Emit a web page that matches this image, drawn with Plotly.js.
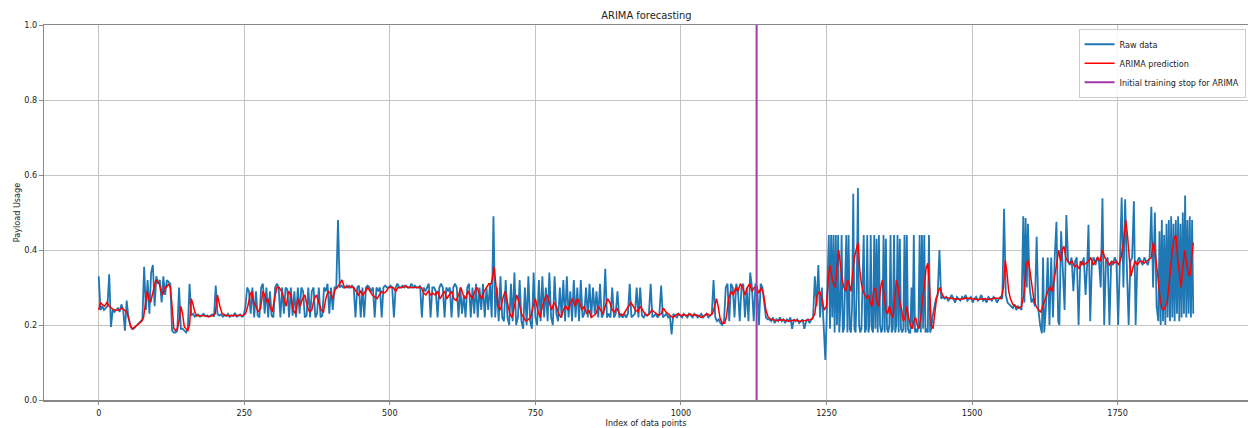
<!DOCTYPE html>
<html>
<head>
<meta charset="utf-8">
<script src="https://cdn.plot.ly/plotly-3.0.1.min.js"></script>
<style>html,body{margin:0;padding:0;background:#fff;}#chart{width:1248px;height:428px;}</style>
</head>
<body>
<div id="chart"></div>
<script>
// ---- Raw data: [index, payload usage] ----
const rawA = [[0,.33],[3,.24],[6,.25],[9,.24],[12,.245],[15,.25],[18,.335],[21,.195],[24,.24],[27,.235],[30,.24],[33,.245],[36,.235],[39,.255],[42,.24],[45,.185],[48,.265],
[51,.22],[54,.20],[57,.19],[60,.19],[63,.195],[66,.20],[69,.205],[72,.21],[75,.215],
[78,.355],[81,.24],[84,.32],[87,.23],[90,.34],[93,.36],[96,.25],[99,.33],[102,.31],[105,.32],[108,.26],[111,.33],[114,.28],[117,.32],[120,.315],[123,.31],
[126,.185],[129,.18],[132,.18],[135,.185],[138,.30],[141,.19],[144,.19],[147,.185],[150,.18],[153,.19],[156,.31],
[159,.225],[162,.23],[165,.222],[168,.225],[171,.228],[174,.222],[177,.225],[180,.23],[183,.224],[186,.226],[189,.222],[192,.225],[195,.228],[198,.222],[201,.305],[204,.23],[207,.225],[210,.228],[213,.222],[216,.226],[219,.224],[222,.23],[225,.222],[228,.226],[231,.224],[234,.232],[237,.222],[240,.225],[243,.228],[246,.222],[249,.225]];

const rawB = [[252,.25],[255,.30],[258,.29],[261,.23],[264,.30],[267,.22],[270,.29],[273,.225],[276,.22],[279,.30],[282,.31],[285,.23],[288,.30],[291,.22],[294,.29],[297,.225],[300,.22],[303,.30],[306,.31],[309,.30],[312,.22],[315,.30],[318,.23],[321,.30],[324,.295],[327,.22],[330,.30],[333,.225],[336,.29],[339,.22],[342,.30],[345,.23],[348,.30],[351,.29],[354,.22],[357,.225],[360,.30],[363,.22],[366,.29],[369,.30],[372,.22],[375,.23],[378,.30],[381,.22],[384,.225],[387,.30],[390,.29],[393,.31],[396,.23],[399,.30],[402,.24],[405,.30],[408,.30],
[411,.48],[414,.30],[417,.305],[420,.30],[423,.30],[426,.305],[429,.30],[432,.30],[435,.305],[438,.30],[441,.22],[444,.30],[447,.305],[450,.22],[453,.30],[456,.22],[459,.30],[462,.305],[465,.30],[468,.29],[471,.30],[474,.22],[477,.30],[480,.29],[483,.30],[486,.22],[489,.30],[492,.305],[495,.30],[498,.30],[501,.305],[504,.30],[507,.22],[510,.30],[513,.31],[516,.30],[519,.30],[522,.305],[525,.30],[528,.305],[531,.30],[534,.30],[537,.31],[540,.30],[543,.305],[546,.30],[549,.30],[552,.305],[555,.22],[558,.30],[561,.29],[564,.30],[567,.31],[570,.22],[573,.30],[576,.30],[579,.29],[582,.22],[585,.30],[588,.31],[591,.30],[594,.22],[597,.30],[600,.29],[603,.30],[606,.22],[609,.30],[612,.31],[615,.30],[618,.22],[621,.30],[624,.23],[627,.28],[630,.22],[633,.30],[636,.31],[639,.22],[642,.30],[645,.23],[648,.31],[651,.22],[654,.30],[657,.24],[660,.31],[663,.22],[666,.30],[669,.24],[672,.31],[675,.22],[678,.49]];

const rawC = [[681,.22],[684,.30],[687,.21],[690,.33],[693,.22],[696,.21],[699,.32],[702,.22],[705,.20],[708,.31],[711,.21],[714,.34],[717,.20],[720,.22],[723,.32],[726,.21],[729,.19],[732,.30],[735,.20],[738,.33],[741,.21],[744,.19],[747,.34],[750,.22],[753,.20],[756,.32],[759,.21],[762,.33],[765,.22],[768,.30],[771,.21],[774,.34],[777,.22],[780,.20],[783,.33],[786,.23],[789,.21],[792,.30],[795,.22],[798,.32],[801,.21],[804,.33],[807,.22],[810,.29],[813,.21],[816,.32],[819,.22],[822,.30],[825,.21],[828,.32],[831,.22],[834,.23],[837,.30],[840,.22],[843,.31],[846,.22],[849,.30],[852,.23],[855,.29],[858,.22],[861,.31],[864,.22],[867,.23],[870,.35],[873,.22],[876,.23],[879,.22],[882,.30],[885,.22],[888,.23],[891,.29],[894,.22],[897,.23],[900,.22],[903,.23],[906,.22],[909,.23],[912,.31],[915,.22],[918,.225],[921,.23],[924,.30],[927,.22],[930,.30],[933,.225],[936,.22],[939,.23],[942,.225],[945,.23],[948,.31],[951,.22],[954,.225],[957,.23],[960,.22],[963,.23],[966,.305],[969,.22],[972,.225],[975,.23],[978,.22],[981,.225],[984,.175],[987,.23],[990,.225],[993,.22],[996,.23],[999,.225],[1002,.22],[1005,.23],[1008,.225],[1011,.22],[1014,.23],[1017,.225],[1020,.22],[1023,.23],[1026,.225],[1029,.22],[1032,.225],[1035,.23],[1038,.22],[1041,.225],[1044,.23],[1047,.22],[1050,.225],[1053,.23],[1056,.32],[1059,.22],[1062,.21],[1065,.215],[1068,.205],[1071,.20],[1074,.21],
[1077,.30],[1080,.31],[1083,.21],[1086,.31],[1089,.30],[1092,.22],[1095,.31],[1098,.29],[1101,.21],[1104,.30],[1107,.31],[1110,.22],[1113,.30],[1116,.21],[1119,.34],[1122,.30],[1125,.21],[1128,.31],[1131,.30],[1134,.20],[1137,.31],[1140,.30],[1143,.25],[1146,.22],[1149,.215],
[1152,.215],[1155,.21],[1158,.22],[1161,.205],[1164,.215],[1167,.21],[1170,.22],[1173,.21],[1176,.215],[1179,.205],[1182,.215],[1185,.21],[1188,.22],[1191,.19],[1194,.215],[1197,.21],[1200,.215],[1203,.205],[1206,.21],[1209,.215],[1212,.19],[1215,.21],[1218,.215],[1221,.205],[1224,.215],[1227,.22],
[1230,.33],[1233,.25],[1236,.36],[1239,.22],[1242,.30],[1245,.20],[1248,.107]];

const rawD = [[1250,.20],[1252,.30],[1254,.44],[1256,.19],[1258,.44],[1260,.22],[1262,.44],[1264,.18],[1266,.44],[1268,.20],[1270,.44],[1272,.18],[1274,.25],[1276,.44],[1278,.18],[1280,.19],[1282,.30],[1284,.44],[1286,.18],[1288,.44],[1290,.19],[1292,.18],[1294,.25],[1296,.55],[1298,.19],[1300,.18],[1302,.30],[1304,.565],[1306,.20],[1308,.18],[1310,.19],[1312,.30],[1314,.44],[1316,.18],[1318,.19],[1320,.44],[1322,.18],[1324,.20],[1326,.44],[1328,.19],[1330,.18],[1332,.44],[1334,.19],[1336,.43],[1338,.18],[1340,.44],[1342,.20],[1344,.18],[1346,.19],[1348,.44],[1350,.18],[1352,.43],[1354,.19],[1356,.18],[1358,.20],[1360,.44],[1362,.18],[1364,.19],[1366,.44],[1368,.18],[1370,.20],[1372,.44],[1374,.18],[1376,.43],[1378,.19],[1380,.18],[1382,.19],[1384,.44],[1386,.18],[1388,.44],[1390,.19],[1392,.18],[1394,.18],[1396,.30],[1398,.19],[1400,.44],[1402,.18],[1404,.19],[1406,.18],[1408,.20],[1410,.44],[1412,.18],[1414,.44],[1416,.19],[1418,.44],[1420,.18],[1422,.19],[1424,.18],[1426,.44],[1428,.18],[1430,.19],[1432,.22],
[1435,.25],[1438,.27],[1441,.28],[1444,.40],[1447,.27],[1450,.275],[1453,.27],[1456,.275],[1459,.265],[1462,.27],[1465,.28],[1468,.27],[1471,.26],[1474,.275],[1477,.27],[1480,.265],[1483,.275],[1486,.27],[1489,.28],[1492,.265],[1495,.27],[1498,.275],[1501,.26],[1504,.27],[1507,.275],[1510,.265],[1513,.27],[1516,.28],[1519,.265],[1522,.27],[1525,.26],[1528,.275],[1531,.27],[1534,.265],[1537,.275],[1540,.27],[1543,.26],[1546,.27],[1549,.275],[1552,.27]];

const rawE = [[1555,.51],[1558,.28],[1561,.26],[1564,.255],[1567,.25],[1570,.245],[1573,.255],[1576,.24],[1579,.25],[1582,.245],[1585,.24],[1588,.49],[1590,.26],[1592,.485],[1594,.30],[1596,.47],[1599,.30],[1602,.26],[1605,.27],[1608,.25],[1611,.435],[1614,.24],[1617,.20],[1620,.178],[1622,.38],[1624,.18],[1627,.25],[1630,.38],[1633,.20],[1636,.38],[1639,.22],[1642,.38],[1645,.475],[1648,.21],[1650,.20],[1653,.45],[1656,.36],[1659,.24],[1662,.493],[1665,.37],[1668,.36],[1671,.38],[1674,.29],[1677,.37],[1680,.38],[1683,.20],[1686,.37],[1689,.36],[1692,.38],[1695,.28],[1698,.37],[1700,.467],[1703,.21],[1706,.37],[1709,.38],[1712,.36],[1715,.38],[1718,.37],[1721,.30],[1724,.538],[1727,.20],[1730,.37],[1733,.38],[1736,.20],[1739,.37],[1742,.36],[1745,.38],[1748,.37],[1751,.20],[1754,.38],[1757,.54],[1760,.30],[1763,.535],[1766,.35],[1769,.20],[1772,.37],[1775,.38],[1778,.53],[1781,.20],[1784,.37],[1787,.38],[1790,.37],[1793,.36],[1796,.38],[1799,.37],[1802,.36],[1805,.38],[1808,.515],[1811,.30],[1814,.50],[1817,.25],[1820,.21],[1822,.45],[1824,.20],[1826,.48],[1828,.21],[1830,.44],[1832,.20],[1834,.47],[1836,.22],[1838,.48],[1840,.21],[1842,.49],[1844,.22],[1846,.47],[1848,.21],[1850,.48],[1852,.23],[1854,.49],[1856,.21],[1858,.47],[1860,.22],[1862,.50],[1864,.23],[1866,.545],[1868,.22],[1870,.48],[1872,.23],[1874,.49],[1876,.22],[1878,.48],[1880,.23]];

// ---- ARIMA prediction: [index, value] ----
const arimaA = [[0,.24],[3,.26],[6,.255],[10,.25],[14,.26],[18,.25],[22,.245],[26,.24],[30,.24],[35,.24],[40,.245],[45,.24],[48,.235],
[52,.215],[55,.195],[58,.19],[62,.195],[66,.20],[70,.205],[74,.21],
[77,.22],[80,.26],[83,.29],[86,.27],[89,.26],[92,.28],[95,.30],[98,.32],[101,.315],[104,.31],[107,.29],[110,.28],[113,.30],[116,.30],[120,.31],[123,.30],
[126,.25],[129,.19],[132,.185],[135,.19],[138,.21],[141,.25],[144,.23],[147,.195],[150,.19],[153,.185],[156,.20],[159,.27],[162,.255],[165,.235],[168,.225],
[172,.225],[180,.225],[188,.222],[196,.225],[200,.23],[204,.28],[208,.25],[212,.23],[220,.225],[230,.225],[240,.225],[248,.226]];

const arimaB = [[252,.23],[256,.25],[260,.28],[263,.29],[266,.26],[270,.25],[274,.235],[278,.245],[282,.29],[285,.28],[288,.26],[291,.27],[294,.25],[298,.235],[302,.27],[306,.30],[310,.30],[314,.29],[318,.27],[322,.25],[326,.29],[330,.28],[334,.24],[338,.23],[342,.27],[346,.25],[350,.27],[354,.28],[358,.25],[362,.235],[366,.24],[370,.27],[374,.28],[378,.26],[382,.24],[386,.235],[390,.27],[394,.29],[398,.285],[402,.27],[406,.295],[410,.30],
[414,.31],[418,.32],[422,.30],[426,.30],[430,.305],[434,.30],[438,.30],[442,.29],[446,.28],[450,.29],[454,.28],[458,.29],[462,.30],[466,.29],[470,.28],[474,.275],[478,.27],[482,.28],[486,.29],[490,.285],[494,.29],[498,.30],[502,.30],[506,.30],[510,.29],[514,.30],[518,.30],[522,.30],[526,.305],[530,.30],[534,.30],[538,.30],[542,.30],[546,.30],[550,.30],[554,.30],[558,.285],[562,.28],[566,.29],[570,.28],[574,.285],[578,.28],[582,.29],[586,.27],[590,.28],[594,.29],[598,.27],[602,.28],[606,.29],[610,.27],[614,.265],[618,.28],[622,.30],[626,.28],[630,.27],[634,.29],[638,.28],[642,.27],[646,.29],[650,.30],[654,.28],[658,.27],[662,.29],[666,.30],[670,.31],[674,.31],[677,.33],[679,.355]];

const arimaC = [[682,.30],[686,.25],[690,.24],[694,.27],[698,.29],[702,.26],[706,.23],[710,.22],[714,.25],[718,.28],[722,.26],[726,.23],[730,.22],[734,.21],[738,.215],[742,.22],[746,.25],[750,.27],[754,.24],[758,.22],[762,.25],[766,.27],[770,.28],[774,.26],[778,.24],[782,.26],[786,.25],[790,.23],[794,.22],[798,.24],[802,.25],[806,.24],[810,.26],[814,.27],[818,.25],[822,.27],[826,.26],[830,.24],[834,.25],[838,.23],[842,.24],[846,.22],[850,.225],[854,.23],[858,.25],[862,.24],[866,.23],[870,.25],[874,.27],[878,.26],[882,.24],[886,.235],[890,.245],[894,.23],[898,.225],[902,.23],[906,.24],[910,.25],[914,.26],[918,.25],[922,.24],[926,.235],[930,.25],[934,.24],[938,.23],[942,.225],[946,.23],[950,.24],[954,.235],[958,.23],[962,.225],[966,.23],[970,.245],[974,.235],[978,.23],[982,.225],[986,.22],[990,.225],[995,.23],[1000,.225],[1005,.228],[1010,.225],[1015,.23],[1020,.225],[1025,.228],[1030,.225],[1035,.22],[1040,.225],[1045,.23],[1050,.225],[1054,.23],[1058,.25],[1061,.27],[1064,.25],[1067,.22],[1071,.205],[1075,.205],
[1078,.22],[1082,.27],[1086,.29],[1090,.28],[1094,.30],[1098,.29],[1102,.31],[1106,.30],[1110,.28],[1114,.30],[1118,.31],[1122,.29],[1126,.30],[1130,.30],[1134,.285],[1138,.30],[1142,.28],[1146,.24],[1150,.22],
[1155,.215],[1165,.212],[1175,.214],[1185,.21],[1195,.213],[1205,.21],[1215,.212],[1225,.215]];

const arimaD = [[1230,.23],[1234,.28],[1238,.29],[1242,.27],[1246,.24],[1250,.25],[1253,.32],[1256,.36],[1259,.33],[1262,.31],[1265,.30],[1268,.36],[1271,.40],[1274,.36],[1277,.32],[1280,.30],[1283,.29],[1286,.32],[1289,.31],[1292,.29],[1295,.33],[1298,.38],[1301,.40],[1304,.42],[1307,.35],[1310,.31],[1313,.29],[1316,.28],[1319,.27],[1322,.28],[1325,.26],[1328,.25],[1331,.29],[1334,.30],[1337,.26],[1340,.25],[1343,.30],[1346,.32],[1349,.28],[1352,.24],[1355,.23],[1358,.25],[1361,.23],[1364,.22],[1367,.26],[1370,.32],[1373,.30],[1376,.26],[1379,.24],[1382,.21],[1385,.22],[1388,.25],[1391,.22],[1394,.20],[1397,.19],[1400,.21],[1403,.22],[1406,.20],[1409,.19],[1412,.22],[1415,.27],[1418,.30],[1421,.35],[1424,.365],[1427,.30],[1430,.20],[1433,.19],[1436,.24],[1439,.27],[1442,.29],[1445,.30],[1448,.285],[1451,.275],
[1460,.272],[1470,.27],[1480,.268],[1490,.272],[1500,.27],[1510,.268],[1520,.27],[1530,.268],[1540,.272],[1550,.27]];

const arimaE = [[1554,.30],[1557,.373],[1560,.34],[1563,.29],[1566,.27],[1570,.255],[1575,.25],[1580,.245],[1585,.25],[1589,.28],[1593,.36],[1596,.373],[1599,.35],[1602,.31],[1606,.27],[1610,.25],[1614,.24],[1618,.235],[1622,.25],[1626,.27],[1630,.29],[1634,.30],[1638,.29],[1642,.33],[1646,.38],[1649,.40],[1652,.37],[1655,.40],[1658,.41],[1661,.38],[1664,.37],[1668,.365],[1672,.37],[1676,.355],[1680,.36],[1684,.35],[1688,.37],[1692,.36],[1696,.365],[1700,.37],[1704,.38],[1708,.36],[1712,.37],[1716,.38],[1720,.37],[1724,.40],[1728,.38],[1732,.37],[1736,.36],[1740,.37],[1744,.365],[1748,.37],[1752,.36],[1756,.38],[1760,.42],[1764,.48],[1767,.44],[1770,.38],[1773,.33],[1776,.35],[1780,.37],[1784,.36],[1788,.37],[1792,.37],[1796,.365],[1800,.37],[1804,.375],[1808,.38],[1811,.42],[1814,.40],[1817,.36],[1820,.31],[1823,.27],[1826,.245],[1829,.24],[1832,.25],[1835,.26],[1838,.30],[1841,.36],[1844,.40],[1847,.43],[1850,.44],[1853,.38],[1856,.33],[1859,.30],[1862,.35],[1865,.40],[1868,.37],[1871,.34],[1874,.33],[1877,.38],[1880,.42]];

const trainingStop = 1130;
const xTicks = [0, 250, 500, 750, 1000, 1250, 1500, 1750];
const yTicks = [0, 0.2, 0.4, 0.6, 0.8, 1.0];
const yTickText = ['0.0', '0.2', '0.4', '0.6', '0.8', '1.0'];

const raw = [].concat(rawA, rawB, rawC, rawD, rawE);
const arima = [].concat(arimaA, arimaB, arimaC, arimaD, arimaE);

const FONT = '"DejaVu Sans Condensed", "Liberation Sans Narrow", "DejaVu Sans", sans-serif';

const traces = [
  {x: raw.map(p => p[0]), y: raw.map(p => p[1]), type: 'scatter', mode: 'lines', name: 'Raw data',
   line: {color: '#1f77b4', width: 1.8}},
  {x: arima.map(p => p[0]), y: arima.map(p => p[1]), type: 'scatter', mode: 'lines', name: 'ARIMA prediction',
   line: {color: '#ff0000', width: 1.5}},
  {x: [trainingStop, trainingStop], y: [0, 1], type: 'scatter', mode: 'lines', name: 'Initial training stop for ARIMA',
   line: {color: '#a03aa8', width: 2}}
];

const layout = {
  width: 1248, height: 428,
  margin: {l: 44, r: 0, t: 25, b: 28, pad: 0},
  paper_bgcolor: '#fff', plot_bgcolor: '#fff',
  font: {family: FONT, size: 9, color: '#222'},
  title: {text: 'ARIMA forecasting', font: {family: FONT, size: 11, color: '#222'}, x: 0.518, xanchor: 'center', y: 0.965, yanchor: 'middle'},
  showlegend: true,
  legend: {x: 0.998, xanchor: 'right', y: 0.99, yanchor: 'top', bgcolor: 'rgba(255,255,255,0.85)',
           bordercolor: '#cccccc', borderwidth: 1, font: {family: FONT, size: 9, color: '#222'},
           itemwidth: 30, tracegroupgap: 0},
  xaxis: {range: [-94, 1974], tickvals: xTicks, ticktext: xTicks.map(String), showgrid: true, gridcolor: '#c4c4c4', gridwidth: 1,
          zeroline: false, showline: true, linecolor: '#888', linewidth: 1.5, mirror: true, ticks: 'outside', ticklen: 3.5,
          tickcolor: '#888', tickfont: {family: FONT, size: 9, color: '#222'},
          title: {text: 'Index of data points', font: {family: FONT, size: 9, color: '#222'}, standoff: 2}},
  yaxis: {range: [0, 1], tickvals: yTicks, ticktext: yTickText, showgrid: true, gridcolor: '#c4c4c4', gridwidth: 1,
          zeroline: false, showline: true, linecolor: '#888', linewidth: 1.5, mirror: false, ticks: 'outside', ticklen: 3.5,
          tickcolor: '#888', tickfont: {family: FONT, size: 9, color: '#222'},
          title: {text: 'Payload Usage', font: {family: FONT, size: 9, color: '#222'}, standoff: 2}}
};

Plotly.newPlot('chart', traces, layout, {displayModeBar: false, staticPlot: true});
</script>
</body>
</html>
